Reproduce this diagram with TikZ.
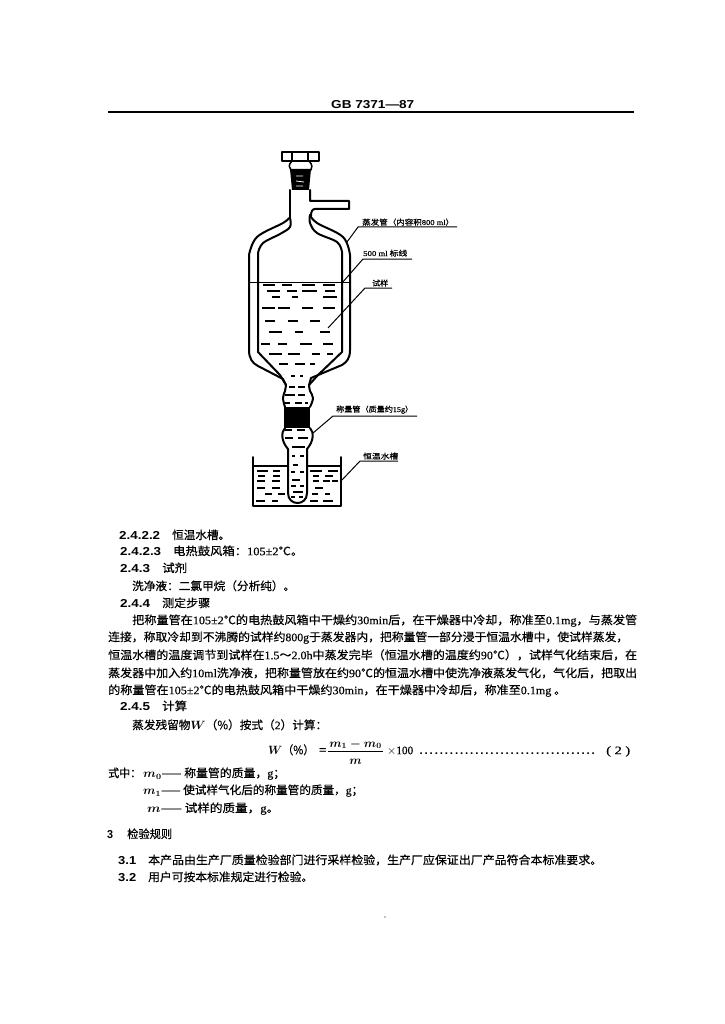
\documentclass[tikz,border=0pt]{standalone}
\usepackage{fontspec}
\usepackage{graphicx}
\setmainfont{Noto Sans CJK SC}[FakeBold=0.4]
\newfontfamily\latf{Liberation Serif}[FakeBold=0.4]
\newfontfamily\numf{Liberation Sans}[BoldFont={Liberation Sans Bold}]
\newcommand\lat[1]{{\latf #1}}
\newcommand\nm[1]{{\numf\bfseries #1}}
\newcommand\bmth[1]{{\boldmath$#1$}}
% name, x, centre y, width, text
\newcommand\tl[5]{\node[txt] (#1) at (#2,#3+4.2) {\resizebox{#4pt}{\height}{#5}};}
\newcommand\lb[5]{\node[lab] (#1) at (#2,#3+3) {\resizebox{#4pt}{\height}{#5}};}
\tikzset{
  txt/.style={anchor=base west,inner sep=0pt,font=\fontsize{11.5}{12}\selectfont,text=black},
  lab/.style={anchor=base west,inner sep=0pt,font=\fontsize{7.5}{8}\selectfont,text=black},
  wall/.style={line width=2pt,line join=round,line cap=round},
  dsh/.style={line width=1.2pt},
  leaderline/.style={line width=1pt},
}
\begin{document}
\begin{tikzpicture}[x=1pt,y=-1pt]
\useasboundingbox (0,0) rectangle (724,1024);
\fill[white] (0,0) rectangle (724,1024);
% header
\tl{hd}{331}{104}{83}{\nm{GB 7371—87}}
\draw[line width=1.4pt] (108,112) -- (634,112);
% cap and stopper
\draw[wall] (282,152) rectangle (319,161);
\draw[wall] (292,152) -- (292,161) (308,152) -- (308,161);
\draw[wall,line width=1.5pt] (292,161) .. controls (288,165) and (289,168) .. (291,170);
\draw[wall,line width=1.5pt] (309,161) .. controls (313,165) and (312,168) .. (311,170);
\fill (290,169) -- (311,169) -- (309,190) -- (292,190) -- cycle;
\draw[white,line width=0.8pt] (296,176) -- (303,176) (296,181) -- (304,182) (296,186) -- (303,186);
% neck and side tube
\draw[wall] (290,190) -- (290,218);
\draw[wall] (310,190) -- (310,201) -- (349,201) -- (349,209) -- (315,209) .. controls (312,209) and (311,212) .. (311,216);
% inner wall
\draw[wall] plot[smooth,tension=0.6] coordinates {(290,218) (290,227) (280,234) (263,243) (258,253)} -- (258,352) -- (280,375) -- (286,385);
\draw[wall] plot[smooth,tension=0.6] coordinates {(310,215) (310,223) (317,233) (337,242) (342,252)} -- (342,352) -- (318,375) -- (309,385);
% outer wall
\draw[wall] plot[smooth,tension=0.6] coordinates {(289,218) (283,223) (257,237) (249,255)} -- (249,350) .. controls (249,358) and (252,363) .. (258,366) -- (283,379) -- (286,385);
\draw[wall] plot[smooth,tension=0.6] coordinates {(310,215) (317,223) (343,237) (350,255)} -- (350,350) .. controls (350,358) and (347,362) .. (342,365) -- (311,378) -- (309,385);
% level
\draw[line width=0.9pt] (249,282) -- (350,282);
% upper bulb
\draw[wall] plot[smooth,tension=0.7] coordinates {(286,385) (285,391) (283,398) (285,407)};
\draw[wall] plot[smooth,tension=0.7] coordinates {(309,385) (310,391) (313,398) (310,407)};
\fill (284,407) rectangle (310,428);
% lower bulb and tube
\draw[wall] (285,428) .. controls (281,432) and (281,441) .. (288,449) -- (288,493) .. controls (288,500) and (293,503) .. (297.5,503) .. controls (302,503) and (307,500) .. (307,493) -- (307,449) .. controls (314,441) and (314,432) .. (310,428);
% bath
\draw[wall] (253,457) -- (253,506) -- (341,506) -- (341,457);
\draw[dsh] (253,466) -- (288,466) (307,466) -- (341,466);
% dashes
\foreach \y/\a/\b in {285/263/275,285/282/292,285/302/315,285/323/335,
 291/267/280,291/287/297,291/302/317,291/325/335,
 297/272/280,297/292/298,297/323/337,
 308/262/275,308/278/290,308/302/313,308/323/335,
 321/265/275,321/288/298,321/310/320,
 332/269/282,332/295/303,332/320/330,
 344/261/270,344/278/287,344/300/312,344/323/333,
 354/269/282,354/288/300,354/312/320,354/327/333,
 364/279/288,364/295/305,364/310/315,
 376/291/295,376/300/303,
 387/289/295,387/298/305,
 395/285/295,395/298/305,
 403/285/290,403/295/302,403/305/308,
 430/285/292,430/297/305,
 438/285/293,438/298/308,
 447/292/305,
 456/292/295,456/300/304,
 465/293/298,
 472/291/295,472/300/304,
 480/292/300,486/291/296,486/300/304,492/293/303,497/291/295,497/299/303,
 471/257/268,471/273/280,471/310/322,471/328/338,
 476/258/265,476/273/280,476/313/319,476/325/333,
 481/257/265,481/272/280,481/313/319,481/323/330,481/332/338,
 488/257/265,488/272/280,488/315/323,
 494/265/272,494/278/285,494/312/318,494/325/330,
 501/256/265,501/272/278,501/310/318,501/323/333}
 {\draw[dsh] (\a,\y) -- (\b,\y);}
% callouts
\lb{l1}{362}{222}{92}{蒸发管（内容积\lat{800 ml}）}
\lb{l2}{363}{253}{44}{\lat{500 ml} 标线}
\lb{l3}{372}{283}{16}{试样}
\lb{l4}{336}{409}{77}{称量管（质量约\lat{15g}）}
\lb{l5}{363}{456}{35}{恒温水槽}
\coordinate (u1a) at (358,227); \coordinate (u1b) at (457,227); \coordinate (t1) at (347,242);
\coordinate (u2a) at (363,259); \coordinate (u2b) at (412,259); \coordinate (t2) at (342,283);
\coordinate (u3a) at (365,288); \coordinate (u3b) at (392,288); \coordinate (t3) at (328,328);
\coordinate (u4a) at (333,416); \coordinate (u4b) at (417,416); \coordinate (t4) at (313,433);
\coordinate (u5a) at (360,461); \coordinate (u5b) at (398,461); \coordinate (t5) at (342,480);
\draw[leaderline] (u1b) -- (u1a) -- (t1);
\draw[leaderline] (u2b) -- (u2a) -- (t2);
\draw[leaderline] (u3b) -- (u3a) -- (t3);
\draw[leaderline] (u4b) -- (u4a) -- (t4);
\draw[leaderline] (u5b) -- (u5a) -- (t5);
% body
\tl{a1}{119}{535}{41}{\nm{2.4.2.2}}
\tl{a2}{172}{535}{58}{恒温水槽。}
\tl{b1}{120}{551}{41}{\nm{2.4.2.3}}
\tl{b2}{173}{551}{130}{电热鼓风箱：\lat{105±2}℃。}
\tl{c1}{120}{568}{30}{\nm{2.4.3}}
\tl{c2}{162}{568}{25}{试剂}
\tl{d}{132}{586}{163}{洗净液：二氯甲烷（分析纯）。}
\tl{e1}{120}{603}{30}{\nm{2.4.4}}
\tl{e2}{162}{603}{48}{测定步骤}
\tl{p1}{132}{620}{505}{把称量管在\lat{105±2}℃的电热鼓风箱中干燥约\lat{30min}后，在干燥器中冷却，称准至\lat{0.1mg}，与蒸发管}
\tl{p2}{108}{637}{520}{连接，称取冷却到不沸腾的试样约\lat{800g}于蒸发器内，把称量管一部分浸于恒温水槽中，使试样蒸发，}
\tl{p3}{108}{655}{529}{恒温水槽的温度调节到试样在\lat{1.5}～\lat{2.0h}中蒸发完毕（恒温水槽的温度约\lat{90}℃），试样气化结束后，在}
\tl{p4}{108}{673}{529}{蒸发器中加入约\lat{10ml}洗净液，把称量管放在约\lat{90}℃的恒温水槽中使洗净液蒸发气化，气化后，把取出}
\tl{p5}{108}{690}{458}{的称量管在\lat{105±2}℃的电热鼓风箱中干燥约\lat{30min}，在干燥器中冷却后，称准至\lat{0.1mg} 。}
\tl{f1}{120}{706}{30}{\nm{2.4.5}}
\tl{f2}{162}{706}{25}{计算}
\tl{g}{132}{725}{195}{蒸发残留物\bmth{W}（\%）按式（\lat{2}）计算：}
% formula
\tl{h1}{268}{750}{46}{\bmth{W}（\%）}
\tl{h2}{319}{750}{7}{=}
\node[txt,anchor=base] (h3) at (355.5,747) {\bmth{m_1-m_0}};
\node[txt,anchor=base] (h4) at (355.5,764) {\bmth{m}};
\draw[line width=1pt] (328,751) -- (383,751);
\tl{h5}{387}{750}{26}{$\times$\lat{100}}
\node[txt,anchor=base west] (h6) at (417,754) {\makebox[180pt]{\nm{\dotfill}}};
\tl{h7}{606}{750}{24}{\lat{( 2 )}}
\tl{i1}{108}{773}{33}{式中：}
\tl{i2}{143}{773}{142}{\bmth{m_0}—— 称量管的质量，\lat{g}；}
\tl{j}{143}{790}{220}{\bmth{m_1}—— 使试样气化后的称量管的质量，\lat{g}；}
\tl{k}{147}{808}{132}{\bmth{m}—— 试样的质量，\lat{g}。}
\tl{m1}{107}{834}{6}{\nm{3}}
\tl{m2}{127}{834}{45}{检验规则}
\tl{n1}{118}{860}{18}{\nm{3.1}}
\tl{n2}{148}{860}{454}{本产品由生产厂质量检验部门进行采样检验，生产厂应保证出厂产品符合本标准要求。}
\tl{o1}{118}{877}{18}{\nm{3.2}}
\tl{o2}{148}{877}{165}{用户可按本标准规定进行检验。}
\fill (385,917) circle (0.6);
\end{tikzpicture}
\end{document}
